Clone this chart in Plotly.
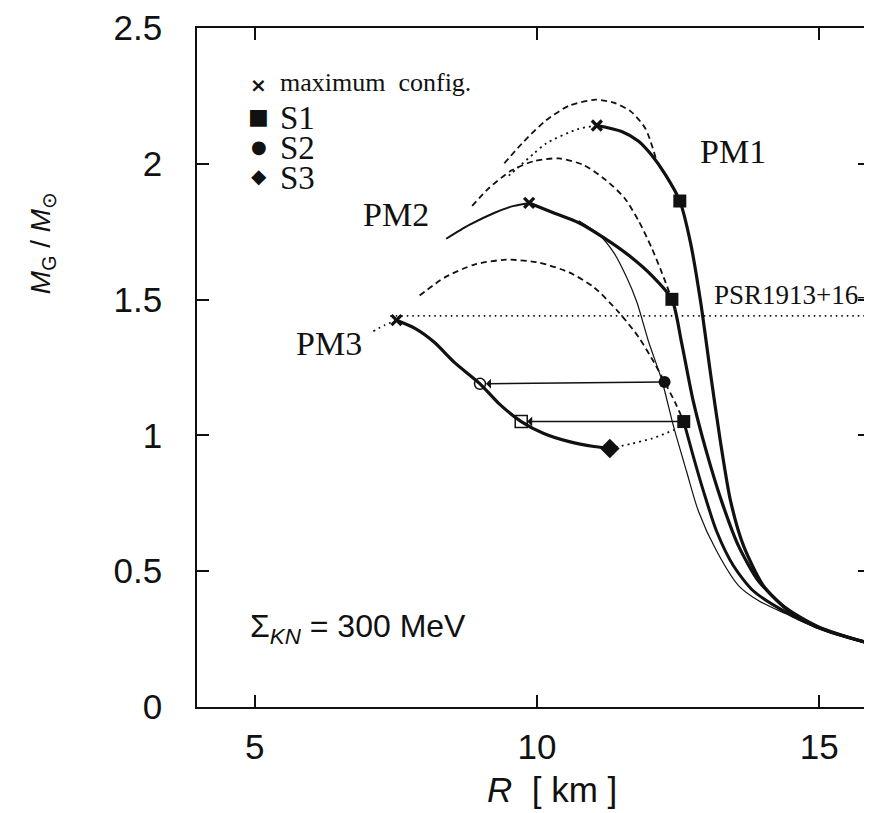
import plotly.graph_objects as go

# ---------------- data (R in km, M_G in solar masses) ----------------
# PM1
pm1_R = [11.06, 11.50, 11.80, 12.03, 12.28, 12.53, 12.72, 12.90, 13.07, 13.25, 13.43, 13.66, 14.01, 14.45, 14.98, 15.90, 16.60]
pm1_M = [2.141, 2.119, 2.083, 2.032, 1.958, 1.863, 1.709, 1.490, 1.234, 0.977, 0.758, 0.593, 0.447, 0.355, 0.293, 0.234, 0.200]
pm1_unstable_R = [11.06, 10.71, 10.16, 9.95, 9.65, 9.45]
pm1_unstable_M = [2.141, 2.127, 2.075, 2.039, 1.984, 1.947]
pm1_nokaon_R = [9.42, 9.77, 10.16, 10.57, 11.04, 11.36, 11.66, 11.92, 12.12]
pm1_nokaon_M = [2.002, 2.083, 2.160, 2.214, 2.236, 2.225, 2.193, 2.130, 2.010]

# PM2
pm2_R = [9.86, 10.30, 10.74, 11.18, 11.63, 12.07, 12.39, 12.56, 12.77, 13.00, 13.27, 13.57, 13.92, 14.40, 14.98, 15.90, 16.60]
pm2_M = [1.856, 1.819, 1.783, 1.728, 1.662, 1.581, 1.501, 1.343, 1.124, 0.941, 0.758, 0.593, 0.465, 0.366, 0.296, 0.234, 0.200]
pm2_left_R = [8.39, 8.80, 9.24, 9.59, 9.86]
pm2_left_M = [1.724, 1.775, 1.819, 1.845, 1.856]
pm2_nokaon_R = [8.85, 9.15, 9.56, 9.95, 10.39, 10.83, 11.22, 11.55, 11.80, 12.03, 12.21, 12.39]
pm2_nokaon_M = [1.845, 1.911, 1.977, 2.010, 2.020, 1.995, 1.940, 1.874, 1.790, 1.691, 1.600, 1.501]
thin_R = [10.74, 11.10, 11.36, 11.59, 11.77, 11.98, 12.21, 12.42, 12.65, 12.86, 13.18, 13.57, 13.92, 14.40, 14.98, 15.90, 16.60]
thin_M = [1.790, 1.739, 1.673, 1.581, 1.490, 1.343, 1.204, 1.032, 0.867, 0.721, 0.575, 0.447, 0.392, 0.344, 0.289, 0.231, 0.198]

# PM3
pm3_R = [7.51, 7.83, 8.18, 8.53, 8.99, 9.33, 9.72, 10.12, 10.57, 11.01, 11.29]
pm3_M = [1.424, 1.395, 1.343, 1.270, 1.190, 1.116, 1.051, 1.007, 0.977, 0.959, 0.952]
pm3_low_R = [12.60, 12.77, 12.95, 13.18, 13.48, 13.83, 14.36, 14.98, 15.90, 16.60]
pm3_low_M = [1.051, 0.922, 0.794, 0.648, 0.520, 0.428, 0.355, 0.293, 0.234, 0.200]
pm3_left_R = [7.51, 7.30, 7.07]
pm3_left_M = [1.424, 1.406, 1.380]
pm3_nokaon_R = [7.92, 8.36, 8.89, 9.45, 10.04, 10.57, 11.01, 11.45, 11.80, 12.07, 12.26, 12.44, 12.60]
pm3_nokaon_M = [1.515, 1.581, 1.629, 1.647, 1.636, 1.600, 1.545, 1.453, 1.362, 1.270, 1.197, 1.124, 1.051]
s3_link_R = [11.29, 11.68, 12.03, 12.43]
s3_link_M = [0.952, 0.970, 0.988, 1.020]

# PSR1913+16 mass
psr_R = [7.40, 16.0]
psr_M = [1.44, 1.44]

# special configurations
max_R = [11.06, 9.86, 7.51]
max_M = [2.141, 1.856, 1.424]
s1_R = [12.53, 12.39, 12.60]
s1_M = [1.863, 1.501, 1.051]
s2_R = [12.26]
s2_M = [1.197]
s3_R = [11.29]
s3_M = [0.952]
open_circle_R = [8.99]
open_circle_M = [1.190]
open_square_R = [9.72]
open_square_M = [1.051]

x_ticks = [5, 10, 15]
y_ticks = [0, 0.5, 1, 1.5, 2, 2.5]
y_ticktext = ["0", "0.5", "1", "1.5", "2", "2.5"]

# ---------------- figure ----------------
INK = "#111111"
OFF = 8                     # default page margin of the html body
W, H = 872 - OFF, 813 - OFF
L, T, B = 197 - OFF, 24 - OFF, 106
PW, PH = W - L, H - T - B

def px(xp):                 # page pixel -> paper coordinate
    return (xp - OFF - L) / PW

def py(yp):
    return (H - B - (yp - OFF)) / PH

fig = go.Figure()

def curve(R, M, width, dash="solid"):
    fig.add_trace(go.Scatter(
        x=R, y=M, mode="lines",
        line=dict(color=INK, width=width, dash=dash, shape="spline", smoothing=0.7),
        hoverinfo="skip", showlegend=False))

curve(psr_R, psr_M, 1.6, "1.5px,4px")
curve(pm1_nokaon_R, pm1_nokaon_M, 1.8, "6px,4px")
curve(pm2_nokaon_R, pm2_nokaon_M, 1.8, "6px,4px")
curve(pm3_nokaon_R, pm3_nokaon_M, 1.8, "6px,4px")
curve(pm1_unstable_R, pm1_unstable_M, 1.8, "2px,4px")
curve(pm3_left_R, pm3_left_M, 1.8, "2px,4px")
curve(s3_link_R, s3_link_M, 1.8, "2px,4px")
curve(thin_R, thin_M, 1.2)
curve(pm2_left_R, pm2_left_M, 2.0)
curve(pm1_R, pm1_M, 3.2)
curve(pm2_R, pm2_M, 3.2)
curve(pm3_R, pm3_M, 3.2)
curve(pm3_low_R, pm3_low_M, 3.0)

def markers(R, M, symbol, size, width=0, fill=INK):
    fig.add_trace(go.Scatter(
        x=R, y=M, mode="markers",
        marker=dict(symbol=symbol, size=size, color=fill, line=dict(color=INK, width=width)),
        hoverinfo="skip", showlegend=False))

markers(max_R, max_M, "x-thin", 10, 3.2)
markers(s1_R, s1_M, "square", 13)
markers(s2_R, s2_M, "circle", 12)
markers(s3_R, s3_M, "diamond", 15)
markers(open_circle_R, open_circle_M, "circle-open", 11, 1.5)
markers(open_square_R, open_square_M, "square-open", 12, 1.5)

# transition arrows
for (x0, y0), (x1, y1) in [((s2_R[0], s2_M[0]), (open_circle_R[0], open_circle_M[0])),
                           ((s1_R[2], s1_M[2]), (open_square_R[0], open_square_M[0]))]:
    fig.add_annotation(x=x1, y=y1, ax=x0, ay=y0, xref="x", yref="y", axref="x", ayref="y",
                       text="", showarrow=True, arrowhead=1, arrowsize=1.1, arrowwidth=1.5,
                       arrowcolor=INK, standoff=6, startstandoff=0)

SERIF = "Liberation Serif"
SANS = "Liberation Sans"

def label(text, xp, yp, size, font=SERIF, xanchor="center", angle=0):
    fig.add_annotation(text=text, x=px(xp), y=py(yp), xref="paper", yref="paper",
                       showarrow=False, xanchor=xanchor, yanchor="middle", textangle=angle,
                       font=dict(family=font, size=size, color=INK))

label("PM1", 735, 148, 34)
label("PM2", 397, 212, 34)
label("PM3", 329, 341, 34)
label("PSR1913+16–", 714, 293, 27, xanchor="left")
label("Σ<sub><i>KN</i></sub> = 300 MeV", 248, 628, 32, font=SANS, xanchor="left")

# legend
label("<b>×</b>", 259, 81, 20, font="DejaVu Sans")
label("maximum  config.", 278, 79, 26, xanchor="left")
label("■", 259, 113, 22, font="DejaVu Sans")
label("S1", 278, 115, 33, xanchor="left")
label("●", 259, 143, 18, font="DejaVu Sans")
label("S2", 278, 145, 33, xanchor="left")
label("◆", 259, 173, 20, font="DejaVu Sans")
label("S3", 278, 175, 33, xanchor="left")

# axis titles
label("<i>M</i><sub>G</sub> / <i>M</i><sub>⊙</sub>", 42, 240, 28, font=SANS, angle=-90)
label("<i>R</i>  [ km ]", 553, 790, 35, font=SANS)

fig.update_layout(
    width=W, height=H,
    margin=dict(l=L, r=0, t=T, b=B, pad=0),
    paper_bgcolor="white", plot_bgcolor="white",
    showlegend=False,
    xaxis=dict(range=[3.975, 15.90], tickvals=x_ticks, ticks="inside", ticklen=12, tickwidth=1.5,
               tickcolor=INK, showline=True, linewidth=1.5, linecolor=INK, mirror="ticks",
               showgrid=False, zeroline=False, ticklabelstandoff=8, ticklabeloverflow="allow",
               tickfont=dict(family=SANS, size=35, color=INK)),
    yaxis=dict(range=[0, 2.5], tickvals=y_ticks, ticktext=y_ticktext, ticks="inside", ticklen=12,
               tickwidth=1.5, tickcolor=INK, showline=True, linewidth=1.5, linecolor=INK,
               mirror="ticks", showgrid=False, zeroline=False, ticklabelstandoff=26,
               ticklabeloverflow="allow",
               tickfont=dict(family=SANS, size=35, color=INK)),
)

fig.write_html("out.html")
